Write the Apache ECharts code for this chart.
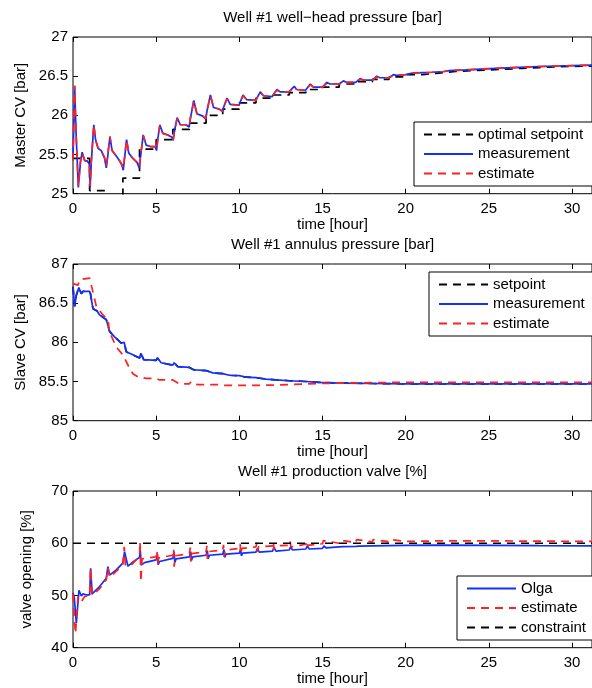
<!DOCTYPE html>
<html><head><meta charset="utf-8">
<script src="https://cdn.jsdelivr.net/npm/echarts@6/dist/echarts.min.js"></script>
<style>html,body{margin:0;padding:0;background:#fff}#c{width:592px;height:688px}</style>
</head><body><div id="c"></div>
<script>
// ---------- data ----------
const panelTitles = ['Well #1 well\u2212head pressure [bar]', 'Well #1 annulus pressure [bar]', 'Well #1 production valve [%]'];
const yNames = ['Master CV [bar]', 'Slave CV [bar]', 'valve opening [%]'];
const xName = 'time [hour]';
const xTickStep = 5;
const yRanges = [[25, 27, 0.5], [85, 87, 0.5], [40, 70, 10]];

// Panel 1 : well-head pressure
const p1Setpoint = [[0,25.45],[1,25.04],[2,24.9],[3,25.2],[4,25.57],[5,25.69],[6,25.82],[7,25.9],[8,26.0],[9,26.08],[10,26.16],[11,26.22],[12,26.26],[13,26.29],[14,26.33],[15,26.36],[16,26.4],[17,26.43],[18,26.46],[19,26.49],[20,26.52],[21,26.54],[22,26.56],[23,26.57],[24,26.58],[25,26.59],[26,26.6],[27,26.61],[28,26.62],[29,26.63],[31.2,26.64]];
const p1Meas = [[0,25.45],[0.05,25.9],[0.1,26.37],[0.18,25.8],[0.32,25.08],[0.45,25.4],[0.55,25.53],[0.7,25.42],[0.85,25.42],[0.98,25.38],[1.03,25.08],[1.1,25.4],[1.25,25.88],[1.35,25.7],[1.5,25.58],[1.7,25.55],[1.9,25.45],[2.0,25.33],[2.1,25.5],[2.22,25.73],[2.35,25.55],[2.6,25.48],[2.8,25.42],[2.95,25.36],[3.02,25.3],[3.1,25.45],[3.22,25.69],[3.35,25.52],[3.6,25.45],[3.85,25.4],[3.98,25.33],[4.05,25.45],[4.22,25.75],[4.4,25.62],[4.7,25.6],[4.95,25.6],[5.02,25.55],[5.1,25.7],[5.22,25.88],[5.4,25.77],[5.7,25.75],[5.95,25.72],[6.02,25.68],[6.1,25.8],[6.26,25.97],[6.45,25.88],[6.8,25.88],[6.98,25.85],[7.05,25.95],[7.26,26.19],[7.45,26.02],[7.8,25.99],[7.98,25.95],[8.05,26.05],[8.26,26.26],[8.45,26.1],[8.8,26.08],[8.98,26.05],[9.05,26.1],[9.26,26.22],[9.45,26.14],[9.98,26.13],[10.05,26.15],[10.22,26.26],[10.45,26.2],[10.98,26.19],[11.05,26.2],[11.26,26.3],[11.45,26.25],[11.98,26.24],[12.05,26.26],[12.26,26.33],[12.45,26.3],[12.98,26.3],[13.05,26.31],[13.3,26.37],[13.45,26.33],[13.98,26.32],[14.05,26.33],[14.26,26.4],[14.45,26.36],[15.0,26.36],[15.26,26.42],[15.45,26.4],[16.0,26.4],[16.26,26.44],[16.45,26.42],[17.0,26.42],[17.26,26.47],[17.45,26.45],[18.0,26.45],[18.26,26.5],[18.45,26.48],[19.0,26.48],[19.26,26.52],[19.45,26.51],[20.0,26.52],[20.4,26.54],[21.0,26.545],[21.6,26.55],[22.3,26.56],[22.6,26.57],[23.6,26.58],[24.5,26.59],[25.4,26.6],[26.5,26.61],[27.6,26.62],[29.0,26.63],[31.2,26.64]];
const p1Est = [[0,25.42],[0.05,25.95],[0.1,26.38],[0.18,25.78],[0.32,25.1],[0.45,25.42],[0.55,25.52],[0.7,25.43],[0.85,25.41],[0.98,25.38],[1.03,25.1],[1.1,25.42],[1.25,25.88],[1.35,25.69],[1.5,25.59],[1.7,25.55],[1.9,25.46],[2.0,25.35],[2.1,25.52],[2.22,25.73],[2.35,25.55],[2.6,25.48],[2.8,25.42],[2.95,25.37],[3.02,25.32],[3.1,25.47],[3.22,25.69],[3.35,25.52],[3.6,25.45],[3.85,25.4],[3.98,25.35],[4.05,25.47],[4.22,25.74],[4.4,25.62],[4.7,25.6],[4.95,25.6],[5.02,25.56],[5.1,25.71],[5.22,25.87],[5.4,25.77],[5.7,25.75],[5.95,25.72],[6.02,25.69],[6.1,25.8],[6.26,25.96],[6.45,25.88],[6.8,25.88],[6.98,25.85],[7.05,25.96],[7.26,26.18],[7.45,26.02],[7.8,25.99],[7.98,25.96],[8.05,26.06],[8.26,26.25],[8.45,26.1],[8.8,26.08],[8.98,26.05],[9.05,26.11],[9.26,26.21],[9.45,26.14],[9.98,26.13],[10.05,26.16],[10.22,26.25],[10.45,26.2],[10.98,26.19],[11.05,26.21],[11.26,26.29],[11.45,26.25],[11.98,26.24],[12.05,26.27],[12.26,26.32],[12.45,26.3],[12.98,26.3],[13.05,26.32],[13.3,26.36],[13.45,26.33],[13.98,26.32],[14.05,26.34],[14.26,26.39],[14.45,26.36],[15.0,26.36],[15.26,26.41],[15.45,26.4],[16.0,26.4],[16.26,26.44],[16.45,26.42],[17.0,26.42],[17.26,26.46],[17.45,26.45],[18.0,26.45],[18.26,26.49],[18.45,26.48],[19.0,26.48],[19.26,26.51],[19.45,26.51],[20.0,26.52],[20.4,26.54],[21.0,26.545],[21.6,26.55],[22.3,26.56],[22.6,26.57],[23.6,26.58],[24.5,26.59],[25.4,26.6],[26.5,26.61],[27.6,26.62],[29.0,26.63],[31.2,26.64]];

// Panel 2 : annulus pressure
const p2Meas = [[0,86.71],[0.1,86.46],[0.2,86.6],[0.35,86.7],[0.5,86.62],[0.6,86.65],[1.0,86.65],[1.05,86.62],[1.2,86.43],[1.45,86.4],[1.6,86.35],[1.8,86.32],[2.0,86.29],[2.08,86.3],[2.2,86.14],[2.5,86.07],[2.9,85.99],[3.0,85.99],[3.08,86.0],[3.2,85.88],[3.5,85.85],[4.0,85.8],[4.08,85.86],[4.25,85.78],[5.0,85.77],[5.08,85.8],[5.3,85.74],[6.0,85.71],[6.08,85.74],[6.3,85.69],[7.0,85.68],[7.08,85.7],[7.25,85.65],[8.0,85.64],[8.08,85.66],[8.4,85.61],[9.0,85.6],[9.08,85.62],[9.4,85.58],[10.0,85.575],[10.08,85.59],[10.4,85.555],[11.0,85.55],[11.08,85.56],[11.6,85.53],[12.0,85.525],[12.08,85.535],[13.0,85.51],[14.0,85.5],[14.1,85.505],[14.8,85.49],[16,85.48],[18,85.475],[20,85.47],[25,85.47],[31.2,85.47]];
const p2Setpoint = p2Meas;
const p2Est = [[0,86.75],[0.1,86.74],[0.3,86.73],[0.4,86.8],[0.5,86.82],[1.0,86.82],[1.4,86.46],[1.8,86.35],[2.1,86.29],[2.2,86.13],[2.6,85.94],[3.0,85.84],[3.4,85.67],[3.6,85.6],[3.9,85.56],[4.4,85.54],[5.0,85.54],[5.2,85.52],[6.0,85.52],[6.4,85.47],[7.0,85.47],[7.1,85.5],[7.5,85.46],[8.8,85.46],[9.0,85.45],[10,85.45],[10.1,85.47],[11,85.45],[12,85.455],[13,85.46],[14,85.47],[16,85.48],[20,85.49],[25,85.49],[31.2,85.49]];

// Panel 3 : production valve
const p3Olga = [[0,50.5],[0.08,49.5],[0.2,44.7],[0.36,51.0],[0.5,49.9],[0.6,50.3],[0.8,50.1],[1.0,50.1],[1.06,55.2],[1.15,50.3],[1.2,50.2],[1.6,51.7],[2.0,53.3],[2.1,55.5],[2.2,53.9],[2.6,54.9],[3.0,56.2],[3.1,58.4],[3.3,55.6],[3.6,56.4],[4.0,57.3],[4.05,58.5],[4.1,55.8],[4.3,56.3],[5.0,56.8],[5.08,57.9],[5.12,55.9],[5.2,56.5],[6.0,57.1],[6.08,58.4],[6.12,56.3],[6.2,57.0],[7.0,57.4],[7.08,58.4],[7.12,56.7],[7.2,57.4],[8.0,57.7],[8.08,58.6],[8.12,57.0],[8.2,57.7],[9.0,57.9],[9.08,58.8],[9.12,57.3],[9.2,57.9],[10.0,58.1],[10.08,58.9],[10.12,57.6],[10.2,58.1],[11.0,58.3],[11.08,59.0],[11.2,58.3],[12.0,58.5],[12.08,59.2],[12.2,58.5],[13.0,58.7],[13.08,59.3],[13.2,58.7],[14.0,58.9],[14.08,59.5],[14.2,58.9],[15.0,59.0],[15.08,59.5],[15.2,59.1],[16.0,59.3],[16.08,59.6],[16.2,59.35],[17,59.4],[17.08,59.65],[17.2,59.45],[18,59.5],[19,59.55],[20,59.6],[22,59.65],[25,59.6],[28,59.55],[31.2,59.5]];
const p3Est = [[0,50.3],[0.1,44.7],[0.15,42.7],[0.3,49.8],[0.5,48.8],[0.7,49.8],[1.0,50.0],[1.06,55.2],[1.15,50.0],[1.6,51.3],[2.0,53.0],[2.1,55.3],[2.2,53.5],[2.6,54.6],[3.0,56.0],[3.08,59.3],[3.15,55.8],[3.5,55.8],[4.0,57.5],[4.03,60.3],[4.08,52.6],[4.15,57.0],[4.3,57.1],[5.0,57.4],[5.05,58.6],[5.08,55.8],[5.15,57.2],[6.0,57.7],[6.05,58.9],[6.08,55.5],[6.15,57.6],[7.0,58.0],[7.05,59.2],[7.08,56.5],[7.15,58.0],[8.0,58.4],[8.05,59.5],[8.08,57.0],[8.15,58.4],[9.0,58.7],[9.05,59.7],[9.08,57.4],[9.15,58.7],[10.0,59.0],[10.05,59.9],[10.08,57.9],[10.15,59.0],[11.0,59.3],[11.05,60.1],[11.08,58.4],[11.15,59.3],[12,59.5],[12.05,60.3],[12.08,58.8],[12.15,59.5],[13,59.6],[13.05,60.4],[13.1,59.3],[14,59.8],[14.05,60.5],[14.1,59.6],[15,59.9],[15.05,60.5],[16,60.0],[16.05,60.6],[17,60.1],[17.05,60.7],[18,60.25],[18.05,60.7],[19,60.3],[19.05,60.7],[20,60.35],[21,60.4],[22,60.45],[25,60.45],[28,60.4],[31.2,60.35]];
const p3Constraint = [[0,60],[31.2,60]];

// ---------- chart ----------
const FONT = 'Liberation Sans, Arial, Helvetica, sans-serif';
const XMAX = 31.2;
const gridTops = [37, 264, 491];
const GH = 156.7;
const chart = echarts.init(document.getElementById('c'), null, {renderer: 'canvas'});

const grids = gridTops.map(t => ({left: 73, top: t, width: 520, height: GH, show: true, borderColor: '#000', borderWidth: 1, backgroundColor: '#fff'}));
const xAxes = [], yAxes = [];
gridTops.forEach((t, i) => {
  xAxes.push({
    type: 'value', gridIndex: i, min: 0, max: XMAX, interval: xTickStep, position: 'bottom',
    name: xName, nameLocation: 'middle', nameGap: 21,
    nameTextStyle: {fontFamily: FONT, fontSize: 15, color: '#000'},
    axisLine: {show: false}, splitLine: {show: false},
    axisTick: {inside: true, length: 5, lineStyle: {color: '#000'}},
    axisLabel: {margin: 8, fontFamily: FONT, fontSize: 15, color: '#000', showMaxLabel: false,
      formatter: v => (Math.abs(v % xTickStep) < 1e-9 ? String(v) : '')}
  });
  xAxes.push({
    type: 'value', gridIndex: i, min: 0, max: XMAX, interval: xTickStep, position: 'top',
    name: panelTitles[i], nameLocation: 'middle', nameGap: 12,
    nameTextStyle: {fontFamily: FONT, fontSize: 15, color: '#000'},
    axisLine: {show: false}, splitLine: {show: false},
    axisTick: {inside: true, length: 5, lineStyle: {color: '#000'}},
    axisLabel: {show: false}
  });
  const r = yRanges[i];
  yAxes.push({
    type: 'value', gridIndex: i, min: r[0], max: r[1], interval: r[2],
    name: yNames[i], nameLocation: 'middle', nameGap: 39,
    nameTextStyle: {fontFamily: FONT, fontSize: 15, color: '#000'},
    axisLine: {show: false}, splitLine: {show: false},
    axisTick: {inside: true, length: 5, lineStyle: {color: '#000'}},
    axisLabel: {margin: 5, fontFamily: FONT, fontSize: 15, color: '#000'}
  });
});

const DASH = [8, 6];
function ser(name, data, gi, color, dashed, step) {
  return {
    name, type: 'line', data, xAxisIndex: gi * 2, yAxisIndex: gi,
    symbol: 'none', step: step || false, clip: true, animation: false,
    lineStyle: {color, width: 1.7, type: dashed ? DASH : 'solid'},
    itemStyle: {color}, z: 2
  };
}
const BLACK = '#000000', BLUE = '#1030ff', RED = '#ff2020';
const series = [
  ser('optimal setpoint', p1Setpoint, 0, BLACK, true, 'end'),
  ser('measurement', p1Meas, 0, BLUE, false),
  ser('estimate', p1Est, 0, RED, true),
  ser('setpoint', p2Setpoint, 1, BLACK, true),
  ser('measurement', p2Meas, 1, BLUE, false),
  ser('estimate', p2Est, 1, RED, true),
  ser('Olga', p3Olga, 2, BLUE, false),
  ser('estimate', p3Est, 2, RED, true),
  ser('constraint', p3Constraint, 2, BLACK, true)
];

function leg(names, left, top) {
  return {
    data: names, orient: 'vertical', left, top,
    itemWidth: 49, itemHeight: 15, itemGap: 4.5,
    padding: [5, 40, 5, 9],
    borderColor: '#000', borderWidth: 1, backgroundColor: '#fff',
    selectedMode: false,
    itemStyle: {color: 'rgba(0,0,0,0)', borderWidth: 0, opacity: 0},
    textStyle: {fontFamily: FONT, fontSize: 15, color: '#000'}
  };
}

chart.setOption({
  backgroundColor: '#fff',
  animation: false,
  grid: grids,
  xAxis: xAxes,
  yAxis: yAxes,
  legend: [
    leg(['optimal setpoint', 'measurement', 'estimate'], 414, 122),
    leg(['setpoint', 'measurement', 'estimate'], 429, 272),
    leg(['Olga', 'estimate', 'constraint'], 457, 576)
  ],
  series
});
</script>
</body></html>
